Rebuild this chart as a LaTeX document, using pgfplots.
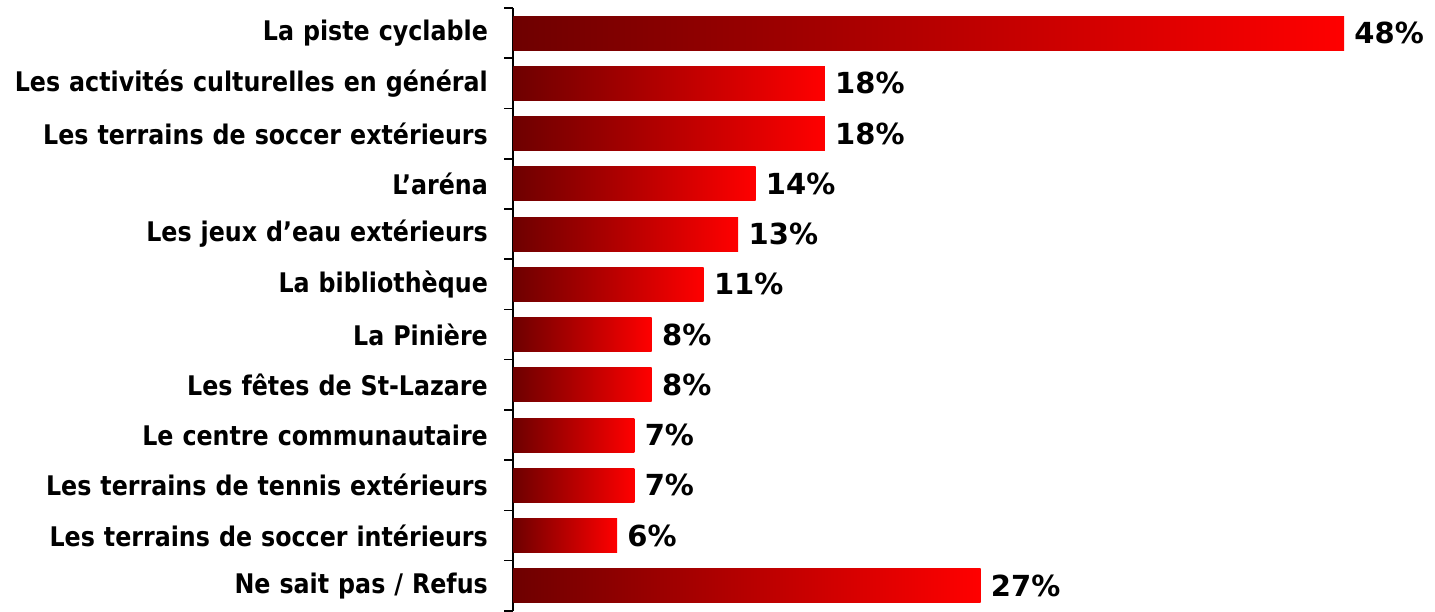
\documentclass[border=0pt]{standalone}
\usepackage{fontspec}
\setmainfont{DejaVu Sans}
\newfontfamily\lblfont[FakeStretch=0.88]{DejaVu Sans}
\usepackage{pgfplots}
\pgfplotsset{compat=1.18}

\definecolor{bardark}{RGB}{110,0,0}
\definecolor{barlight}{RGB}{255,0,0}

\pgfplotsset{gbar/.style={xbar, bar shift=0pt, draw=none, left color=bardark, right color=barlight}}

\begin{document}
\begin{tikzpicture}
\begin{axis}[
  name=main,
  scale only axis,
  width=415.5pt,
  height=301.5pt,
  xmin=0, xmax=48,
  ymin=-0.5, ymax=11.5,
  y dir=reverse,
  bar width=17pt,
  axis x line=none,
  axis y line*=left,
  axis line style={black, line width=0.8pt},
  ytick={0,...,11},
  yticklabels={
    La piste cyclable,
    Les activités culturelles en général,
    Les terrains de soccer extérieurs,
    L’aréna,
    Les jeux d’eau extérieurs,
    La bibliothèque,
    La Pinière,
    Les fêtes de St-Lazare,
    Le centre communautaire,
    Les terrains de tennis extérieurs,
    Les terrains de soccer intérieurs,
    Ne sait pas / Refus},
  major tick length=0pt,
  minor ytick={-0.5,0.5,...,11.5},
  minor tick length=4.5pt,
  tick align=outside,
  tick style={black, line width=0.8pt},
  yticklabel style={font=\lblfont\bfseries\fontsize{13.5}{16}\selectfont, text width=244pt, align=right, inner sep=0pt, xshift=-12.5pt},
  point meta=x,
  /pgf/number format/assume math mode=true,
  nodes near coords={\pgfmathprintnumber{\pgfplotspointmeta}\%},
  nodes near coords align=horizontal,
  every node near coord/.append style={font=\bfseries\fontsize{14.5}{17}\selectfont, black, anchor=west, inner sep=0pt, xshift=5pt},
  clip=false,
]
\addplot[gbar] coordinates {(48,0)};
\addplot[gbar] coordinates {(18,1)};
\addplot[gbar] coordinates {(18,2)};
\addplot[gbar] coordinates {(14,3)};
\addplot[gbar] coordinates {(13,4)};
\addplot[gbar] coordinates {(11,5)};
\addplot[gbar] coordinates {(8,6)};
\addplot[gbar] coordinates {(8,7)};
\addplot[gbar] coordinates {(7,8)};
\addplot[gbar] coordinates {(7,9)};
\addplot[gbar] coordinates {(6,10)};
\addplot[gbar] coordinates {(27,11)};
\end{axis}
\useasboundingbox ([xshift=-256.5pt, yshift=4pt]main.north west) rectangle ++(717.5pt,-305.5pt);
\end{tikzpicture}
\end{document}
